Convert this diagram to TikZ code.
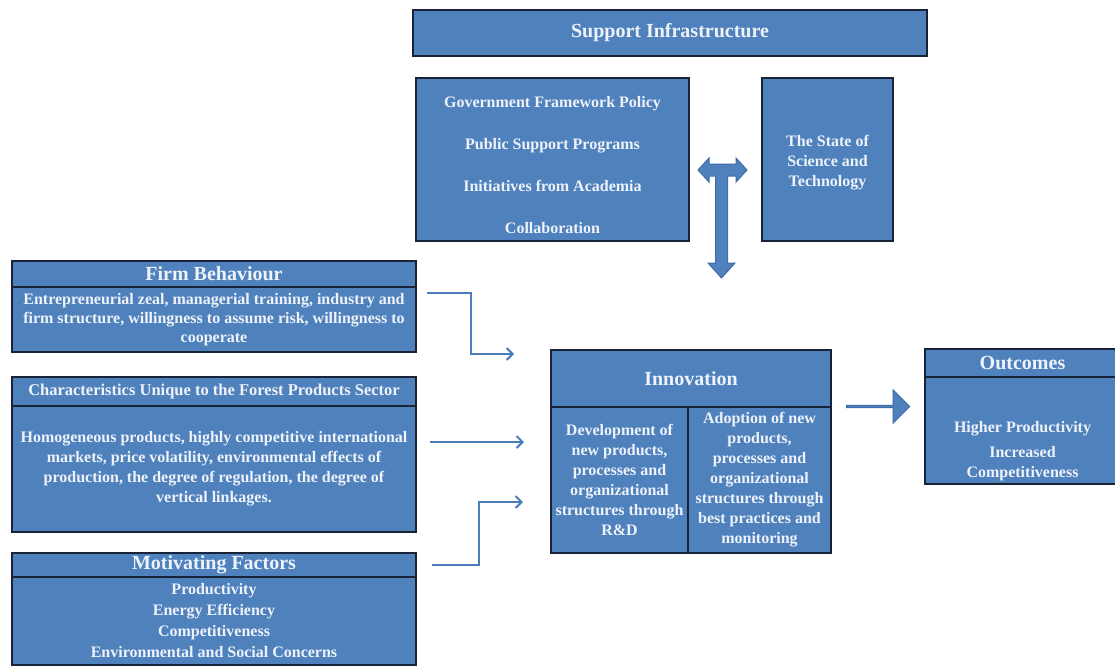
\documentclass[tikz,border=0pt]{standalone}
\usepackage{fontspec}
\setmainfont{Liberation Serif}
\usetikzlibrary{positioning}
\usetikzlibrary{arrows.meta}
\usetikzlibrary{shapes.arrows}

\definecolor{boxfill}{RGB}{79,129,189}
\definecolor{boxline}{RGB}{25,35,55}
\definecolor{boxtext}{RGB}{238,242,250}
\definecolor{linkblue}{RGB}{74,126,187}
\definecolor{arrowline}{RGB}{62,108,168}

\newcommand{\titlefont}{\fontsize{20}{22}\selectfont\bfseries}
\newcommand{\bodyfont}{\fontsize{16}{19}\selectfont\bfseries}

\tikzset{
  box/.style={draw=boxline,line width=1.5pt,fill=boxfill,text=boxtext,
    inner sep=0pt,outer sep=0pt,align=center},
  head/.style={box,font=\titlefont},
  body/.style={box,font=\bodyfont},
  boxtxt/.style={text=boxtext,font=\fontsize{16}{20}\selectfont\bfseries,
    align=center,inner sep=0pt},
  link/.style={draw=linkblue,line width=2pt,
    -{Straight Barb[length=6pt,width=12pt,line width=2pt]}},
  bigarrow/.style={single arrow,draw=arrowline,line width=1pt,fill=boxfill,
    minimum height=63pt,minimum width=33pt,single arrow head extend=7pt,
    single arrow head indent=0pt,inner sep=0pt,outer sep=0pt}
}

\begin{document}
\begin{tikzpicture}[x=1pt,y=-1pt]
\useasboundingbox (0,0) rectangle (1115,667);

% support infrastructure on top
\node[head,minimum width=514pt,minimum height=46pt] (support) at (670,33) {Support Infrastructure};
\node[body,minimum width=273pt,minimum height=163pt] (gov) at (552.5,159.5) {};
\node[boxtxt,font=\bodyfont] (govtext) at (552.5,165)
  {Government Framework Policy\\[23pt]Public Support Programs\\[23pt]Initiatives from Academia\\[23pt]Collaboration};
\node[body,minimum width=131pt,minimum height=163pt] (state) at (827.5,159.5) {};
\node[boxtxt] (statetext) at (827.5,162.5) {The State of\\Science and\\Technology};

% left hand column
\node[head,minimum width=404pt,minimum height=26pt] (firmhead) at (214,274) {Firm Behaviour};
\node[body,minimum width=404pt,minimum height=65pt,below=0pt of firmhead] (firmbody)
  {Entrepreneurial zeal, managerial training, industry and\\firm structure, willingness to assume risk, willingness to\\cooperate};

\node[body,minimum width=404pt,minimum height=29pt,font=\fontsize{16.5}{19}\selectfont\bfseries] (charhead) at (214,391.5)
  {Characteristics Unique to the Forest Products Sector};
\node[body,minimum width=404pt,minimum height=126pt,below=0pt of charhead,font=\fontsize{16}{20}\selectfont\bfseries] (charbody)
  {Homogeneous products, highly competitive international\\markets, price volatility, environmental effects of\\production, the degree of regulation, the degree of\\vertical linkages.};

\node[head,minimum width=404pt,minimum height=24pt] (motivhead) at (214,565) {Motivating Factors};
\node[body,minimum width=404pt,minimum height=88pt,below=0pt of motivhead,font=\fontsize{16}{21}\selectfont\bfseries] (motivbody)
  {Productivity\\Energy Efficiency\\Competitiveness\\Environmental and Social Concerns};

% innovation in the middle
\node[head,minimum width=280pt,minimum height=57pt] (innovhead) at (691,378.5) {Innovation};
\node[body,minimum width=137pt,minimum height=146pt,font=\fontsize{16}{20}\selectfont\bfseries] (devbody) at (619.5,480)
  {Development of\\new products,\\processes and\\organizational\\structures through\\R\&D};
\node[body,minimum width=143pt,minimum height=146pt,font=\fontsize{16}{20}\selectfont\bfseries] (adoptbody) at (759.5,480)
  {Adoption of new\\products,\\processes and\\organizational\\structures through\\best practices and\\monitoring};

% outcomes on the right
\node[head,minimum width=195pt,minimum height=28pt] (outhead) at (1022.5,363) {Outcomes};
\node[body,minimum width=195pt,minimum height=107pt,below=0pt of outhead] (outbody) {};
\node[boxtxt] (outtext) at (1022.5,451)
  {Higher Productivity\\[5pt]Increased\\Competitiveness};

% big arrows
\filldraw[fill=boxfill,draw=arrowline,line width=1pt]
  (698,170) -- (709,158) -- (709,164) -- (736,164) -- (736,158) -- (747,170)
  -- (736,182) -- (736,176) -- (727.5,176) -- (727.5,263) -- (735,263)
  -- (721.5,278) -- (708,263) -- (715.5,263) -- (715.5,176) -- (709,176)
  -- (709,182) -- cycle;
\node[bigarrow] (flow) at (877.5,406.5) {};

% links into innovation
\coordinate (f0) at (427,293);
\coordinate (f1) at (514,354);
\coordinate (c0) at (430,442);
\coordinate (c1) at (524,442);
\coordinate (m0) at (432,565);
\coordinate (m1) at (523,502);
\draw[link] (f0) -- ++(44,0) |- (f1);
\draw[link] (c0) -- (c1);
\draw[link] (m0) -- ++(47,0) |- (m1);
\end{tikzpicture}
\end{document}
